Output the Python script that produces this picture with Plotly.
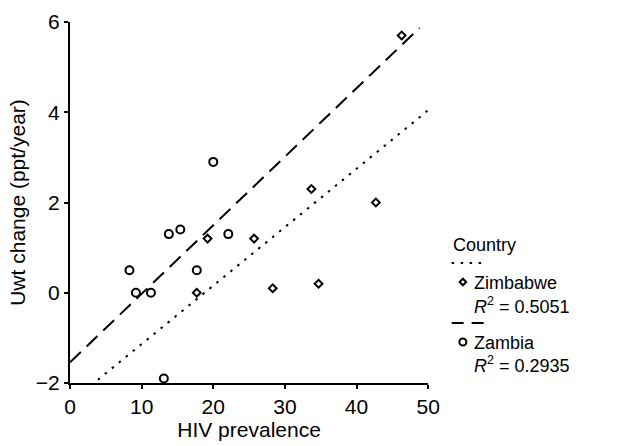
import numpy as np
import plotly.graph_objects as go

# ---- data ----
zimbabwe_hiv = [17.7, 19.2, 25.7, 28.3, 33.7, 34.7, 42.7, 46.3]
zimbabwe_uwt = [0.0, 1.2, 1.2, 0.1, 2.3, 0.2, 2.0, 5.7]
zambia_hiv = [8.3, 9.2, 11.3, 13.1, 13.8, 15.4, 17.7, 20.0, 22.1]
zambia_uwt = [0.5, 0.0, 0.0, -1.9, 1.3, 1.4, 0.5, 2.9, 1.3]
zimbabwe_r2 = "0.5051"
zambia_r2 = "0.2935"
zimbabwe_fit_x = [0, 50]
zambia_fit_x = [0, 48.8]
x_ticks = [0, 10, 20, 30, 40, 50]
y_ticks = [-2, 0, 2, 4, 6]

FONT = "Liberation Sans, Arial, sans-serif"

zb_slope, zb_int = np.polyfit(zimbabwe_hiv, zimbabwe_uwt, 1)
za_slope, za_int = np.polyfit(zambia_hiv, zambia_uwt, 1)
zb_fx = np.array(zimbabwe_fit_x, dtype=float)
za_fx = np.array(zambia_fit_x, dtype=float)

fig = go.Figure()
fig.add_trace(go.Scatter(x=zb_fx, y=zb_slope * zb_fx + zb_int, mode="lines",
                         line=dict(color="black", width=2, dash="2.5px,6.5px"),
                         showlegend=False, hoverinfo="skip"))
fig.add_trace(go.Scatter(x=za_fx, y=za_slope * za_fx + za_int, mode="lines",
                         line=dict(color="black", width=2, dash="15px,8px"),
                         showlegend=False, hoverinfo="skip"))
fig.add_trace(go.Scatter(x=zimbabwe_hiv, y=zimbabwe_uwt, mode="markers",
                         marker=dict(symbol="diamond-open", size=6, color="black",
                                     line=dict(width=2, color="black")),
                         showlegend=False, cliponaxis=False))
fig.add_trace(go.Scatter(x=zambia_hiv, y=zambia_uwt, mode="markers",
                         marker=dict(symbol="circle-open", size=8, color="black",
                                     line=dict(width=2, color="black")),
                         showlegend=False, cliponaxis=False))

# ---- legend drawn in a helper subplot whose units are pixels ----
fig.add_trace(go.Scatter(x=[460, 491], y=[263, 263], mode="lines", xaxis="x2", yaxis="y2",
                         line=dict(color="black", width=2, dash="2.5px,6.5px"),
                         showlegend=False, hoverinfo="skip"))
fig.add_trace(go.Scatter(x=[460, 493], y=[323, 323], mode="lines", xaxis="x2", yaxis="y2",
                         line=dict(color="black", width=2, dash="12px,8px"),
                         showlegend=False, hoverinfo="skip"))
fig.add_trace(go.Scatter(x=[471.5], y=[282], mode="markers", xaxis="x2", yaxis="y2",
                         marker=dict(symbol="diamond-open", size=5, color="black",
                                     line=dict(width=2, color="black")),
                         showlegend=False, hoverinfo="skip"))
fig.add_trace(go.Scatter(x=[471.5], y=[342], mode="markers", xaxis="x2", yaxis="y2",
                         marker=dict(symbol="circle-open", size=7, color="black",
                                     line=dict(width=2, color="black")),
                         showlegend=False, hoverinfo="skip"))

legend_texts = [
    (459, 245, "Country"),
    (481, 283, "Zimbabwe"),
    (481, 305, f"<i>R</i><sup>2</sup> = {zimbabwe_r2}"),
    (481, 343, "Zambia"),
    (481, 364, f"<i>R</i><sup>2</sup> = {zambia_r2}"),
]
annotations = [dict(x=x, y=y, xref="x2", yref="y2", text=t, showarrow=False,
                    xanchor="left", yanchor="middle",
                    font=dict(family=FONT, size=18, color="black"))
               for x, y, t in legend_texts]

axis_common = dict(showline=True, linecolor="black", linewidth=2, ticks="outside",
                   ticklen=4, tickwidth=2, tickcolor="black", showgrid=False,
                   zeroline=False, tickfont=dict(family=FONT, size=21, color="black"),
                   title_font=dict(family=FONT, size=21, color="black"))

fig.update_layout(
    width=630, height=446,
    margin=dict(l=70, r=0, t=22, b=63),
    paper_bgcolor="white", plot_bgcolor="white",
    xaxis=dict(domain=[0, 366 / 560], range=[0, 50], tickvals=x_ticks,
               title=dict(text="HIV prevalence", standoff=4), **axis_common),
    yaxis=dict(range=[-2, 6], tickvals=y_ticks,
               title=dict(text="Uwt change (ppt/year)", standoff=4), **axis_common),
    xaxis2=dict(domain=[369.6 / 560, 1], range=[439.6, 630], visible=False, anchor="y2"),
    yaxis2=dict(domain=[0, 1], range=[383, 22], visible=False, anchor="x2"),
    annotations=annotations,
    showlegend=False,
)

fig.write_html("out.html")
